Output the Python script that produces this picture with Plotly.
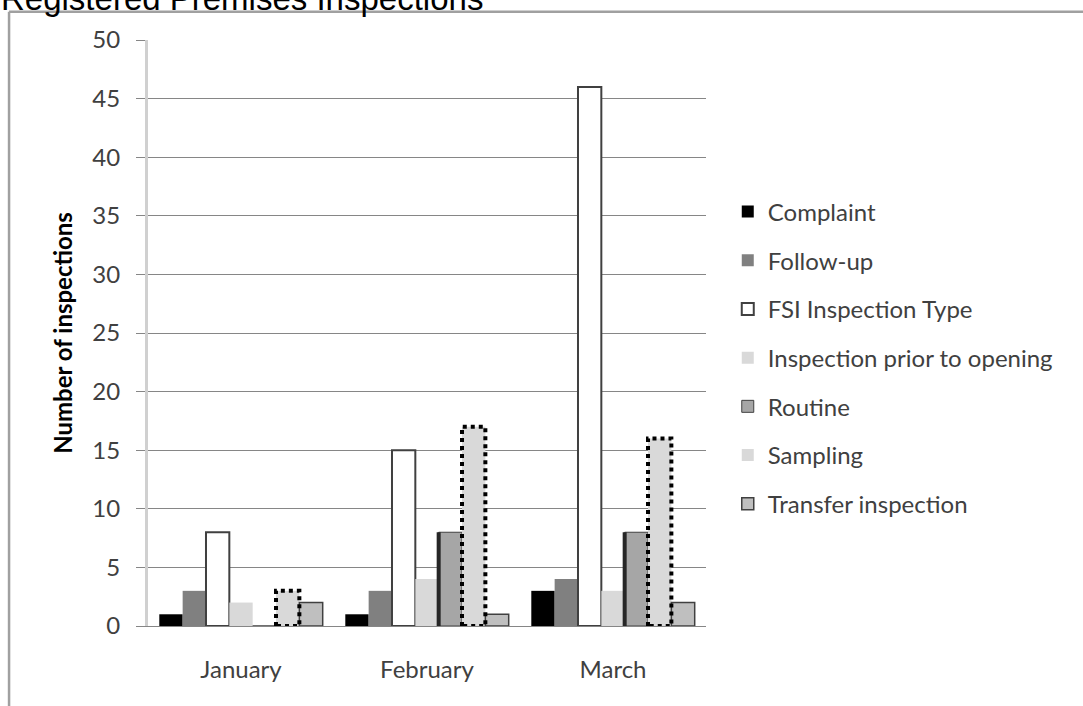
import plotly.graph_objects as go

months = ["January", "February", "March"]
series_names = ["Complaint", "Follow-up", "FSI Inspection Type",
                "Inspection prior to opening", "Routine", "Sampling",
                "Transfer inspection"]
complaint = [1, 1, 3]
follow_up = [3, 3, 4]
fsi = [8, 15, 46]
prior_opening = [2, 4, 3]
routine = [0, 8, 8]
sampling = [3, 17, 16]
transfer = [2, 1, 2]
y_ticks = [0, 5, 10, 15, 20, 25, 30, 35, 40, 45, 50]

values = [complaint, follow_up, fsi, prior_opening, routine, sampling, transfer]
fills = ["#000000", "#808080", "#ffffff", "#d9d9d9", "#a6a6a6", "#d9d9d9", "#bfbfbf"]
lines = ["#000000", "#808080", "#404040", "#d9d9d9", "#404040", "#d9d9d9", "#404040"]
lwidths = [0, 0, 2, 0, 1, 0, 1.5]

W = 0.1255
start = -3.5 * W
xs = list(range(len(months)))

fig = go.Figure()
for i, (name, vals) in enumerate(zip(series_names, values)):
    off = start + i * W
    fig.add_trace(go.Bar(
        x=xs, y=vals, name=name, width=W, offset=off,
        marker=dict(color=fills[i], line=dict(color=lines[i], width=lwidths[i])),
        legendgroup=name,
    ))
    if name == "Sampling":
        ox, oy = [], []
        for x, v in zip(xs, vals):
            if v <= 0:
                continue
            x0, x1 = x + off, x + off + W
            ox += [x0, x0, x1, x1, x0, None]
            oy += [0, v, v, 0, 0, None]
        fig.add_trace(go.Scatter(x=ox, y=oy, mode="lines", showlegend=False,
                                 line=dict(color="#000000", width=4, dash="dot"),
                                 hoverinfo="skip", legendgroup=name))
    if name == "Routine":
        ox, oy = [], []
        for x, v in zip(xs, vals):
            if v <= 0:
                continue
            x0 = x + off
            ox += [x0, x0, None]
            oy += [0, v, None]
        fig.add_trace(go.Scatter(x=ox, y=oy, mode="lines", showlegend=False,
                                 line=dict(color="#262626", width=4),
                                 hoverinfo="skip", legendgroup=name))

font = "Lato, 'Open Sans', sans-serif"
fig.update_layout(
    width=1083, height=706,
    margin=dict(l=148, r=377, t=40, b=80, autoexpand=False),
    paper_bgcolor="white", plot_bgcolor="white",
    barmode="overlay",
    font=dict(family=font, color="#404040", size=24),
    legend=dict(x=1.039, y=0.745, xanchor="left", yanchor="top",
                font=dict(size=24, color="#404040"),
                traceorder="grouped", tracegroupgap=14.5,
                itemwidth=30, bgcolor="rgba(0,0,0,0)"),
    xaxis=dict(range=[-0.5, 2.5], tickvals=xs, ticktext=months,
               showgrid=False, showline=True, linecolor="#868686", linewidth=1,
               ticks="", ticklabelstandoff=22, zeroline=False,
               tickfont=dict(size=24, color="#404040")),
    yaxis=dict(range=[0, 50], tickvals=y_ticks, showgrid=True,
               gridcolor="#868686", gridwidth=1, zeroline=False,
               showline=True, linecolor="#d0d0d0", linewidth=3,
               ticks="outside", ticklen=9, tickcolor="#868686",
               ticklabelstandoff=11,
               tickfont=dict(size=24, color="#404040"),
               title=dict(text="<b>Number of inspections</b>", standoff=13,
                          font=dict(size=24, color="#000000"))),
    showlegend=True,
)

# outer chart frame
fig.add_shape(type="line", xref="paper", yref="paper",
              x0=-0.249, x1=-0.249, y0=-0.2, y1=1.048,
              line=dict(color="#a0a0a0", width=2.5))
fig.add_shape(type="line", xref="paper", yref="paper",
              x0=-0.249, x1=1.8, y0=1.048, y1=1.048,
              line=dict(color="#a0a0a0", width=2.5))
fig.add_annotation(text="Registered Premises Inspections", xref="paper", yref="paper",
                   x=-0.267, y=1.0365, xanchor="left", yanchor="bottom",
                   showarrow=False,
                   font=dict(family="Liberation Sans, Arial", size=33, color="#000000"))

fig.write_html("out.html", config={"displayModeBar": False},
               post_script="document.body.style.margin='0';document.body.style.padding='0';")
